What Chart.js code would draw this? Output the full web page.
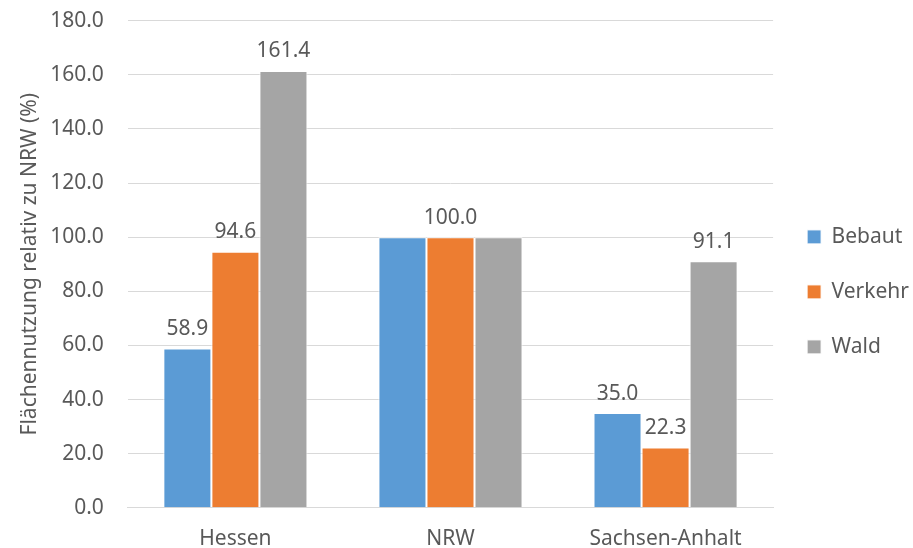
<!DOCTYPE html>
<html>
<head>
<meta charset="utf-8">
<script src="https://cdn.jsdelivr.net/npm/chart.js@4"></script>
<style>
  html, body { margin: 0; padding: 0; background: #fff; }
  #wrap { width: 913px; height: 548px; }
</style>
</head>
<body>
<div id="wrap"><canvas id="chart"></canvas></div>
<script>
// data
const categories = ['Hessen', 'NRW', 'Sachsen-Anhalt'];
const bebaut = [58.9, 100.0, 35.0];
const verkehr = [94.6, 100.0, 22.3];
const wald = [161.4, 100.0, 91.1];
const seriesNames = ['Bebaut', 'Verkehr', 'Wald'];
const yTitle = 'Flächennutzung relativ zu NRW (%)';

const textColor = '#595959';
const font = 'Noto Sans';
const fs = 21;

// labels the original leaves out (overlapping 100.0 at NRW)
const hiddenLabels = { '0-1': true, '2-1': true };

const valueLabels = {
  id: 'valueLabels',
  afterDatasetsDraw(chart) {
    const ctx = chart.ctx;
    ctx.save();
    ctx.font = fs + 'px "' + font + '"';
    ctx.fillStyle = textColor;
    ctx.textAlign = 'center';
    ctx.textBaseline = 'bottom';
    chart.data.datasets.forEach((ds, i) => {
      chart.getDatasetMeta(i).data.forEach((bar, j) => {
        if (hiddenLabels[i + '-' + j]) return;
        ctx.fillText(ds.data[j].toFixed(1), bar.x, bar.y - 9);
      });
    });
    ctx.restore();
  }
};

new Chart(document.getElementById('chart'), {
  type: 'bar',
  data: {
    labels: categories,
    datasets: [
      { label: seriesNames[0], data: bebaut, backgroundColor: '#5B9BD5' },
      { label: seriesNames[1], data: verkehr, backgroundColor: '#ED7D31' },
      { label: seriesNames[2], data: wald, backgroundColor: '#A5A5A5' }
    ].map(d => Object.assign(d, { borderColor: '#ffffff', borderWidth: 1, borderSkipped: 'bottom' }))
  },
  options: {
    responsive: true,
    maintainAspectRatio: false,
    animation: false,
    datasets: { bar: { categoryPercentage: 0.67, barPercentage: 1 } },
    layout: { padding: { left: 17, right: -6, top: 0, bottom: -15 } },
    plugins: {
      tooltip: { enabled: false },
      legend: {
        position: 'right',
        title: { display: true, text: ' ', padding: 2, font: { family: font, size: 14 } },
        labels: {
          boxWidth: 14, boxHeight: 14, padding: 34,
          color: textColor, font: { family: font, size: fs }
        }
      }
    },
    scales: {
      x: {
        grid: { display: false },
        border: { color: '#d9d9d9' },
        ticks: { color: textColor, font: { family: font, size: fs }, padding: 11 }
      },
      y: {
        min: 0, max: 180,
        grid: { color: '#d9d9d9', drawTicks: true, tickLength: 16, tickColor: 'rgba(0,0,0,0)' },
        border: { display: false },
        ticks: {
          stepSize: 20, padding: 8, color: textColor,
          font: { family: font, size: fs },
          callback: v => v.toFixed(1)
        },
        title: { display: true, text: yTitle, color: textColor, font: { family: font, size: fs }, padding: 0 }
      }
    }
  },
  plugins: [valueLabels]
});
</script>
</body>
</html>
